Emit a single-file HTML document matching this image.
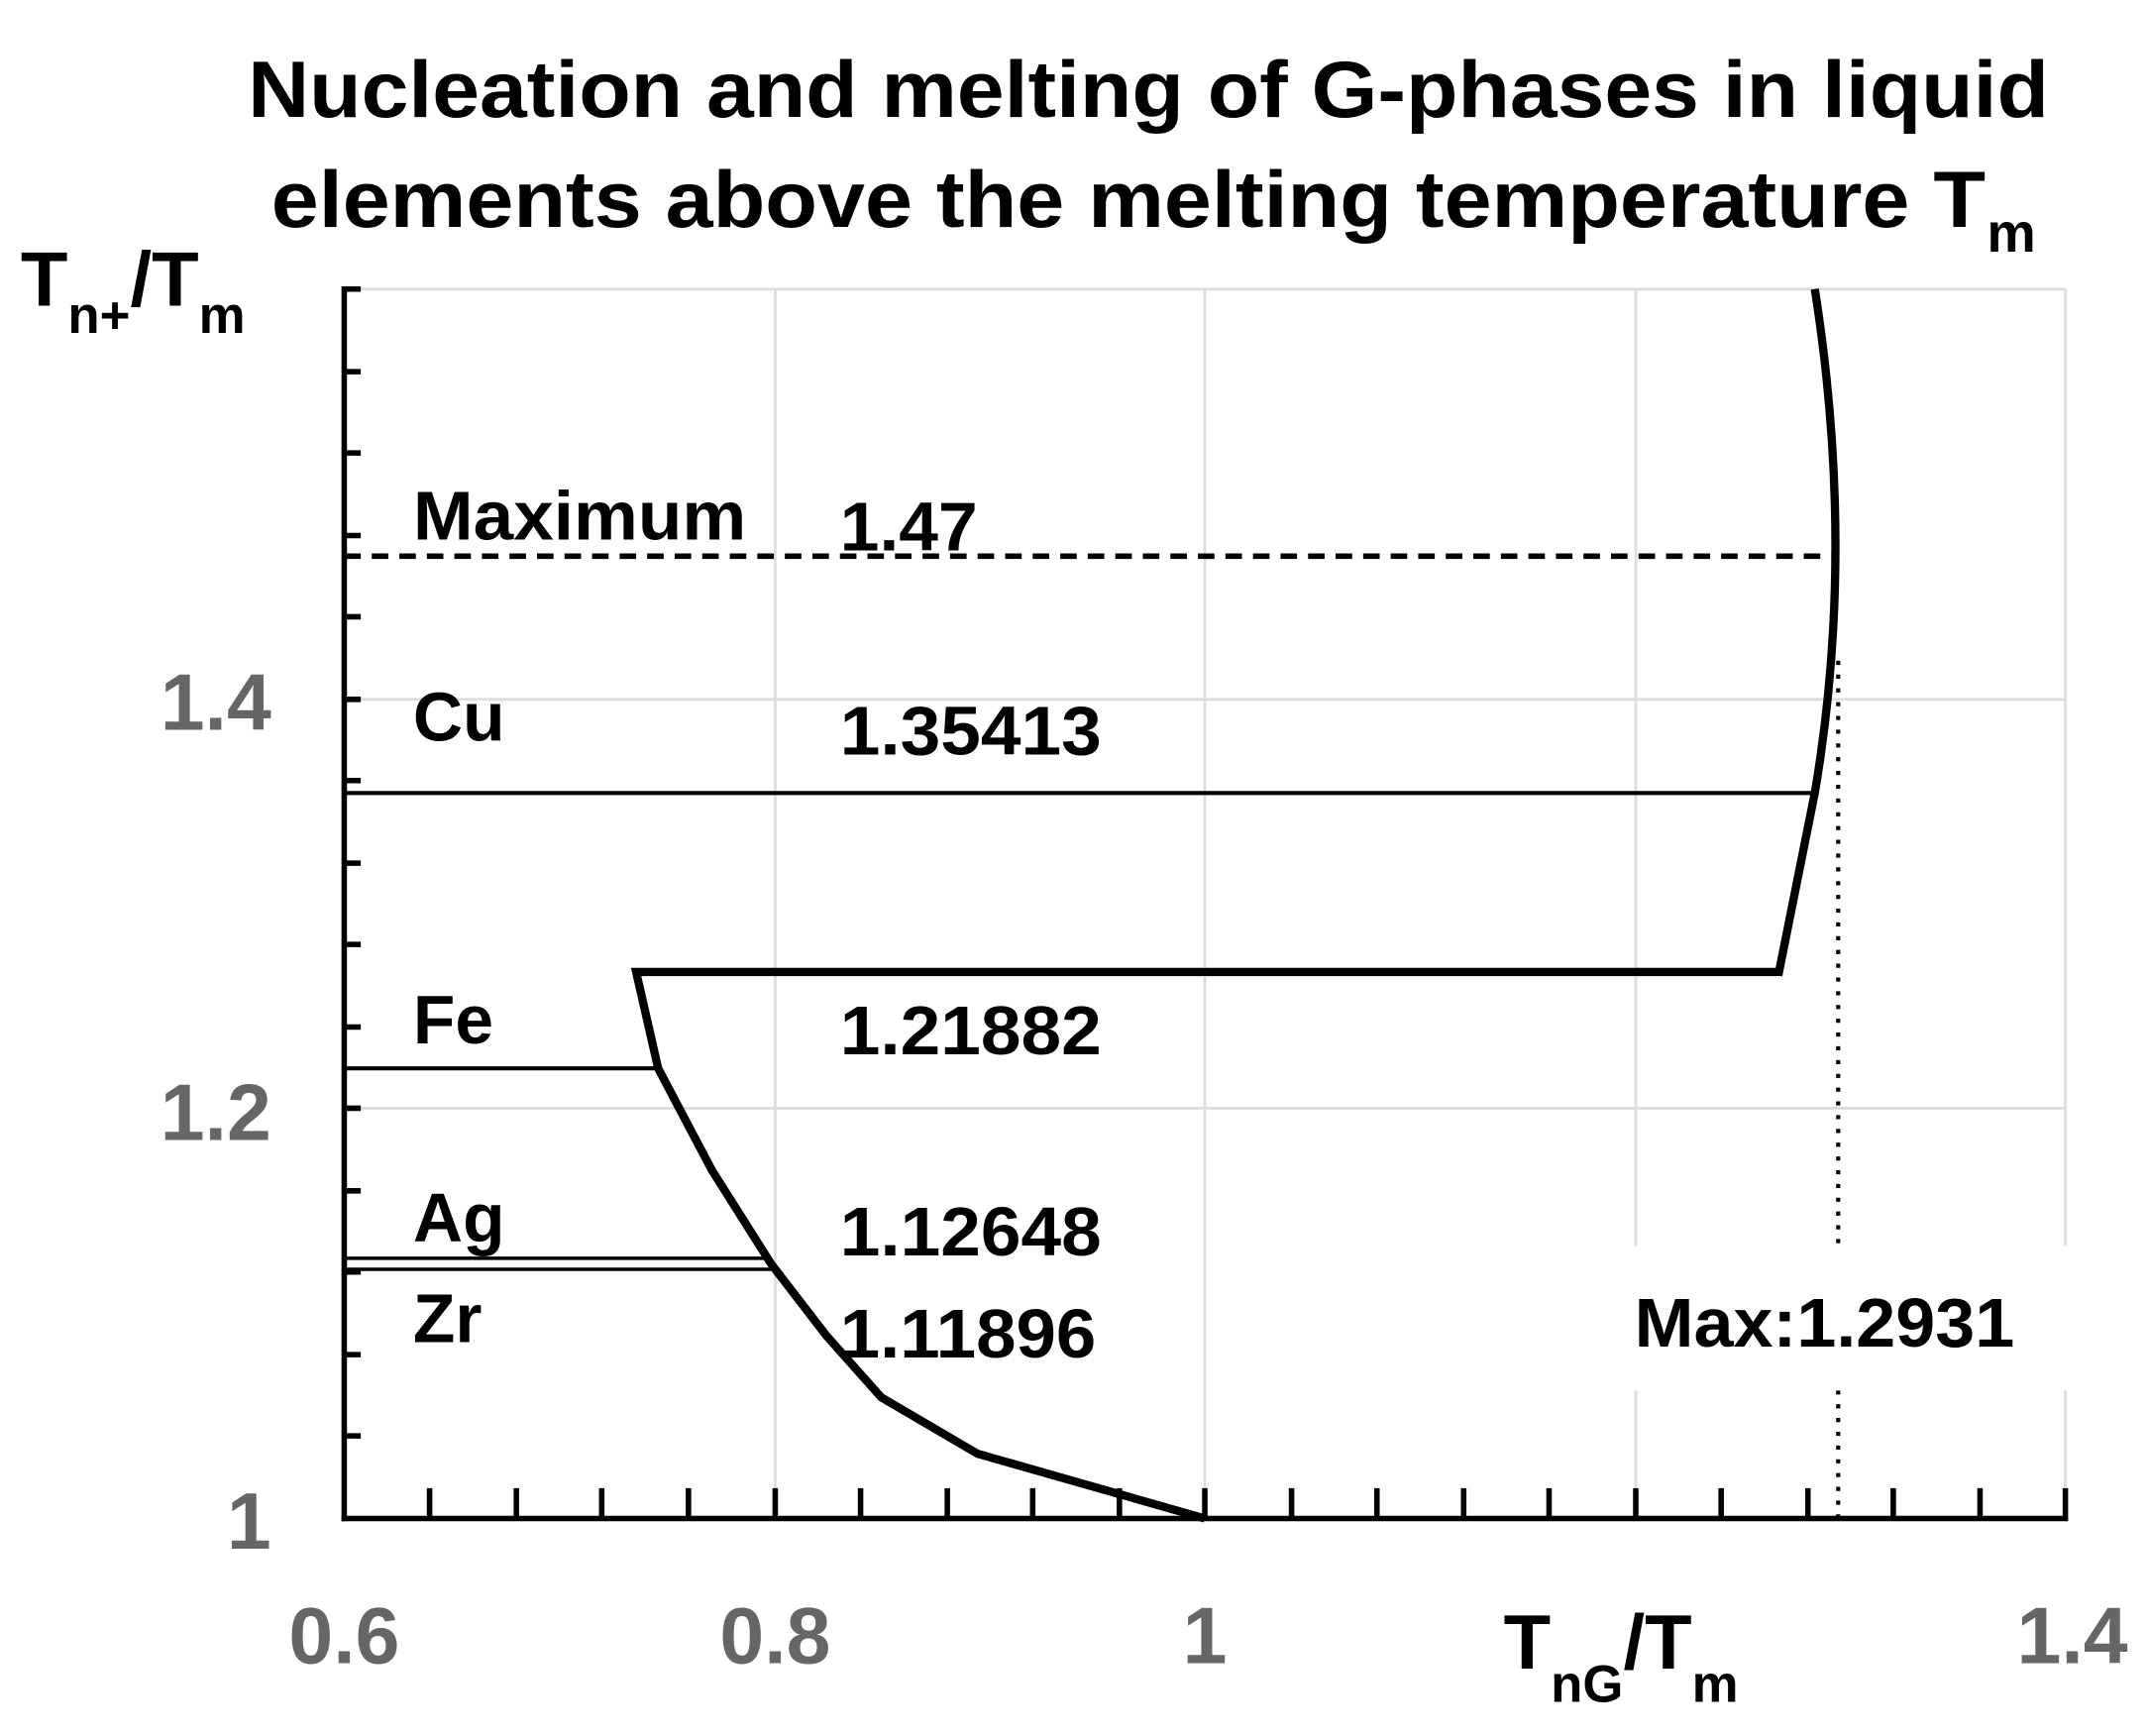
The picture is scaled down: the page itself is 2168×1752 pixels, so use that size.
<!DOCTYPE html>
<html><head><meta charset="utf-8"><style>html,body{margin:0;padding:0;background:#fff}svg{display:block}</style></head>
<body>
<svg width="2168" height="1752" viewBox="0 0 1560 1261" preserveAspectRatio="none" xmlns="http://www.w3.org/2000/svg" font-family="Liberation Sans, Arial, sans-serif" font-weight="bold">
<rect width="1560" height="1261" fill="#fff"/>
<text x="180" y="85" font-size="58" textLength="1308" lengthAdjust="spacingAndGlyphs">Nucleation and melting of G-phases in liquid</text>
<text x="197" y="165" font-size="58" textLength="1245" lengthAdjust="spacingAndGlyphs">elements above the melting temperature T</text>
<text x="1443" y="183" font-size="40">m</text>
<!-- grid -->
<g stroke="#ddd" stroke-width="2">
<line x1="563" y1="210" x2="563" y2="1103"/><line x1="875" y1="210" x2="875" y2="1103"/>
<line x1="1188" y1="210" x2="1188" y2="1103"/><line x1="1500" y1="210" x2="1500" y2="1103"/>
<line x1="250" y1="210" x2="1500" y2="210"/><line x1="250" y1="508" x2="1500" y2="508"/><line x1="250" y1="805" x2="1500" y2="805"/>
</g>
<!-- axes -->
<g stroke="#000" stroke-width="4" fill="none">
<line x1="250" y1="208" x2="250" y2="1105"/><line x1="248" y1="1103" x2="1502" y2="1103"/>
<path d="M250 210h12M250 270h12M250 329h12M250 389h12M250 448h12M250 508h12M250 567h12M250 627h12M250 686h12M250 746h12M250 805h12M250 865h12M250 924h12M250 984h12M250 1043h12"/>
<path d="M312 1103v-22M375 1103v-22M437 1103v-22M500 1103v-22M563 1103v-22M625 1103v-22M688 1103v-22M750 1103v-22M813 1103v-22M875 1103v-22M938 1103v-22M1000 1103v-22M1063 1103v-22M1125 1103v-22M1188 1103v-22M1250 1103v-22M1313 1103v-22M1375 1103v-22M1438 1103v-22M1500 1103v-22"/>
</g>
<!-- series -->
<line x1="250" y1="404" x2="1335" y2="404" stroke="#000" stroke-width="4" stroke-dasharray="12,8"/>
<line x1="250" y1="576" x2="1318" y2="576" stroke="#000" stroke-width="3"/>
<line x1="250" y1="776" x2="478" y2="776" stroke="#000" stroke-width="3"/>
<line x1="250" y1="914" x2="558" y2="914" stroke="#000" stroke-width="2.5"/>
<line x1="250" y1="922" x2="562" y2="922" stroke="#000" stroke-width="2.5"/>
<line x1="1335" y1="480" x2="1335" y2="1103" stroke="#000" stroke-width="3" stroke-dasharray="3,7"/>
<path d="M1318 210 Q1348 400 1318 576 L1292 706 L462 706 L478 776 L517 850 L560 918 L600 970 L640 1015 L710 1056 L875 1103" fill="none" stroke="#000" stroke-width="6" stroke-linejoin="miter"/>
<!-- box -->
<rect x="1155" y="905" width="365" height="105" fill="#fff"/>
<text x="1187" y="978" font-size="50" textLength="276" lengthAdjust="spacingAndGlyphs">Max:1.2931</text>
<!-- labels -->
<g font-size="50">
<text x="300" y="392" textLength="242" lengthAdjust="spacingAndGlyphs">Maximum</text>
<text x="610" y="400" textLength="100" lengthAdjust="spacingAndGlyphs">1.47</text>
<text x="300" y="538">Cu</text>
<text x="610" y="548" textLength="190" lengthAdjust="spacingAndGlyphs">1.35413</text>
<text x="300" y="758">Fe</text>
<text x="610" y="766" textLength="190" lengthAdjust="spacingAndGlyphs">1.21882</text>
<text x="300" y="902">Ag</text>
<text x="610" y="912" textLength="190" lengthAdjust="spacingAndGlyphs">1.12648</text>
<text x="300" y="975">Zr</text>
<text x="610" y="986" textLength="186" lengthAdjust="spacingAndGlyphs">1.11896</text>
</g>
<!-- tick labels -->
<g font-size="58" fill="#666">
<text x="197" y="530" text-anchor="end">1.4</text>
<text x="197" y="828" text-anchor="end">1.2</text>
<text x="197" y="1125" text-anchor="end">1</text>
<text x="250" y="1208" text-anchor="middle">0.6</text>
<text x="563" y="1208" text-anchor="middle">0.8</text>
<text x="875" y="1208" text-anchor="middle">1</text>
<text x="1505" y="1208" text-anchor="middle">1.4</text>
</g>
<!-- axis titles -->
<text x="15" y="222" font-size="56">T<tspan font-size="38" dy="20">n+</tspan><tspan font-size="56" dy="-20">/T</tspan><tspan font-size="38" dy="20">m</tspan></text>
<text x="1092" y="1212" font-size="56">T<tspan font-size="38" dy="24">nG</tspan><tspan font-size="56" dy="-24">/T</tspan><tspan font-size="38" dy="24">m</tspan></text>
</svg>
</body></html>
